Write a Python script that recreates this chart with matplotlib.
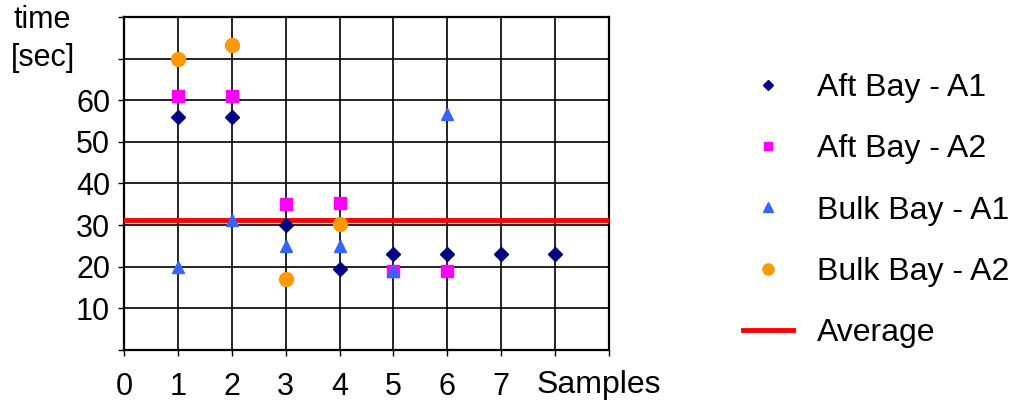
import numpy as np
import matplotlib
matplotlib.use('Agg')
import matplotlib.pyplot as plt

plt.rcParams['font.family'] = ['Liberation Sans', 'DejaVu Sans']

# values
aft_a1_x = [1, 2, 3, 4, 5, 6, 7, 8]
aft_a1_y = [56, 56, 30, 19.5, 23, 23, 23, 23]
aft_a2_x = [1, 2, 3, 4, 5, 6]
aft_a2_y = [61, 61, 35, 35.3, 19, 19]
bulk_a1_x = [1, 2, 3, 4, 5, 6]
bulk_a1_y = [20, 31.2, 25, 25, 19, 56.8]
bulk_a2_x = [1, 2, 3, 4]
bulk_a2_y = [70, 73.3, 17, 30.2]
average = 31.3

x_ticks = [0, 1, 2, 3, 4, 5, 6, 7]
y_ticks = [10, 20, 30, 40, 50, 60]


def run():
	fig = plt.figure(figsize=(10.15, 4.01), dpi=100)
	ax = fig.add_axes([0.1222, 0.1272, 0.4778, 0.8304])

	ax.set_xlim(0, 9)
	ax.set_ylim(0, 80)
	ax.set_xticks(np.arange(0, 10))
	ax.set_yticks(np.arange(0, 90, 10))
	ax.set_xticklabels([str(t) if t in x_ticks else '' for t in range(10)])
	ax.set_yticklabels([str(t) if t in y_ticks else '' for t in range(0, 90, 10)])
	ax.grid(True, color='black', linewidth=1.2)
	ax.set_axisbelow(True)
	for s in ax.spines.values():
		s.set_linewidth(1.6)
	ax.tick_params(axis='both', labelsize=22, length=4, width=1)
	ax.tick_params(axis='x', pad=12)
	ax.tick_params(axis='y', pad=6)

	ax.plot(aft_a1_x, aft_a1_y, 'D', color='#000080', ms=7, label='Aft Bay - A1', zorder=5)
	ax.plot(aft_a2_x, aft_a2_y, 's', color='#FF00FF', ms=8, label='Aft Bay - A2', zorder=4)
	ax.plot(bulk_a1_x, bulk_a1_y, '^', color='#3366FF', ms=9, label='Bulk Bay - A1', zorder=4)
	ax.plot(bulk_a2_x, bulk_a2_y, 'o', color='#FF9900', ms=10, label='Bulk Bay - A2', zorder=4)
	ax.axhline(average, color='#FF0000', linewidth=3.5, label='Average', zorder=3)

	fig.text(0.529, 0.04, 'Samples', fontsize=23, ha='left', va='center')
	fig.text(0.013, 0.95, 'time', fontsize=22, ha='left', va='center')
	fig.text(0.011, 0.855, '[sec]', fontsize=22, ha='left', va='center')

	handles, labels = ax.get_legend_handles_labels()
	fig.legend(handles, labels, loc='center left', bbox_to_anchor=(0.704, 0.475),
		frameon=False, fontsize=23, labelspacing=0.98, handlelength=1.55,
		handletextpad=0.75, markerscale=0.8)

	fig.savefig('out.png', dpi=100)


if __name__ == '__main__':
	run()
